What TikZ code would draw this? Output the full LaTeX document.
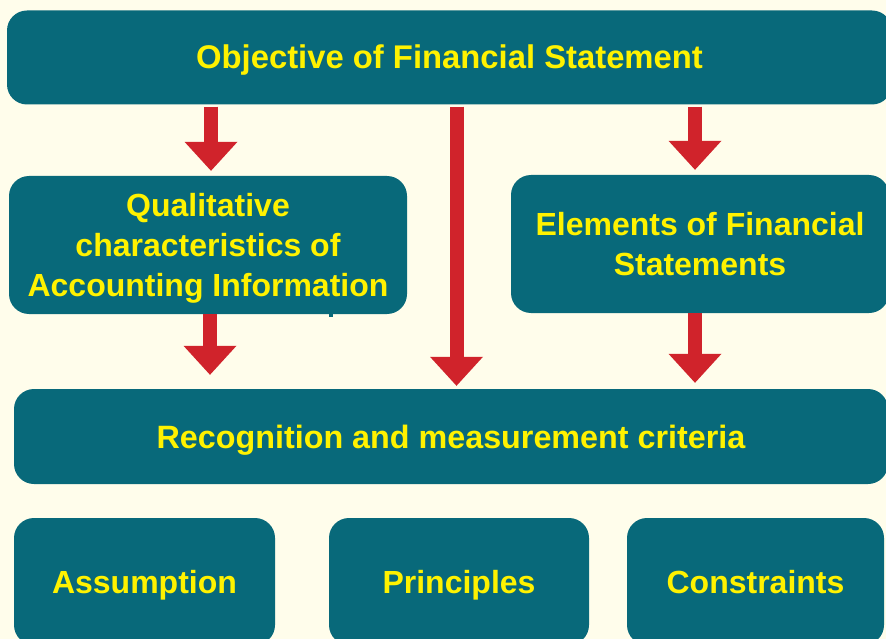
\documentclass[tikz,border=0pt]{standalone}
\usepackage{fontspec}
\setmainfont{Liberation Sans}
\usetikzlibrary{arrows.meta}
\definecolor{paper}{RGB}{255,253,235}
\definecolor{tealbox}{RGB}{8,105,122}
\definecolor{arrowred}{RGB}{208,35,43}
\definecolor{labelyellow}{RGB}{255,242,0}
\tikzset{
  card/.style={fill=tealbox, rounded corners=20pt, inner sep=0pt, align=center,
    text=labelyellow, font=\fontsize{32pt}{40pt}\selectfont\bfseries,
    text height=23pt, text depth=0pt},
  twolines/.style={text height=63pt},
  threelines/.style={text height=103pt},
  blockarrow/.style={draw=arrowred, line width=14pt,
    -{Triangle[width=53pt,length=29pt,line width=0pt,fill=arrowred]}},
}
\begin{document}
\begin{tikzpicture}[x=1pt,y=1pt]
  \fill[paper] (0,0) rectangle (886,-639);
  \useasboundingbox (0,0) rectangle (886,-639);

  % upper level
  \node[card, font=\fontsize{32.8pt}{40pt}\selectfont\bfseries,
        minimum width=885pt, minimum height=94pt] (obj) at (449.5,-57.5)
    {Objective of Financial Statement};
  \node[card, threelines, minimum width=398pt, minimum height=138pt] (qual) at (208,-245)
    {Qualitative\\characteristics of\\Accounting Information};
  \node[card, twolines, minimum width=378pt, minimum height=138pt] (elem) at (700,-244)
    {Elements of Financial\\Statements};
  \node[card, font=\fontsize{32.3pt}{40pt}\selectfont\bfseries,
        minimum width=874pt, minimum height=95pt] (recog) at (451,-436.5)
    {Recognition and measurement criteria};

  % bottom row
  \node[card, minimum width=261pt, minimum height=127pt] (assume) at (144.5,-581.5) {Assumption};
  \node[card, minimum width=260pt, minimum height=127pt] (princ) at (459,-581.5) {Principles};
  \node[card, minimum width=257pt, minimum height=127pt] (constr) at (755.5,-581.5) {Constraints};

  % small tick under the qualitative box
  \fill[tealbox] (329,-312) rectangle (333,-317);

  % connectors
  \draw[blockarrow, shorten <=2pt, shorten >=5pt] (obj.south -| 211,0) -- (qual.north -| 211,0);
  \draw[blockarrow, shorten <=2pt, shorten >=5pt] (obj.south -| 695,0) -- (elem.north -| 695,0);
  \draw[blockarrow, shorten <=2pt, shorten >=3pt] (obj.south -| 456.5,0) -- (recog.north -| 456.5,0);
  \draw[blockarrow, shorten >=14pt] (qual.south -| 210,0) -- (recog.north -| 210,0);
  \draw[blockarrow, shorten >=6pt] (elem.south -| 695,0) -- (recog.north -| 695,0);
\end{tikzpicture}
\end{document}
